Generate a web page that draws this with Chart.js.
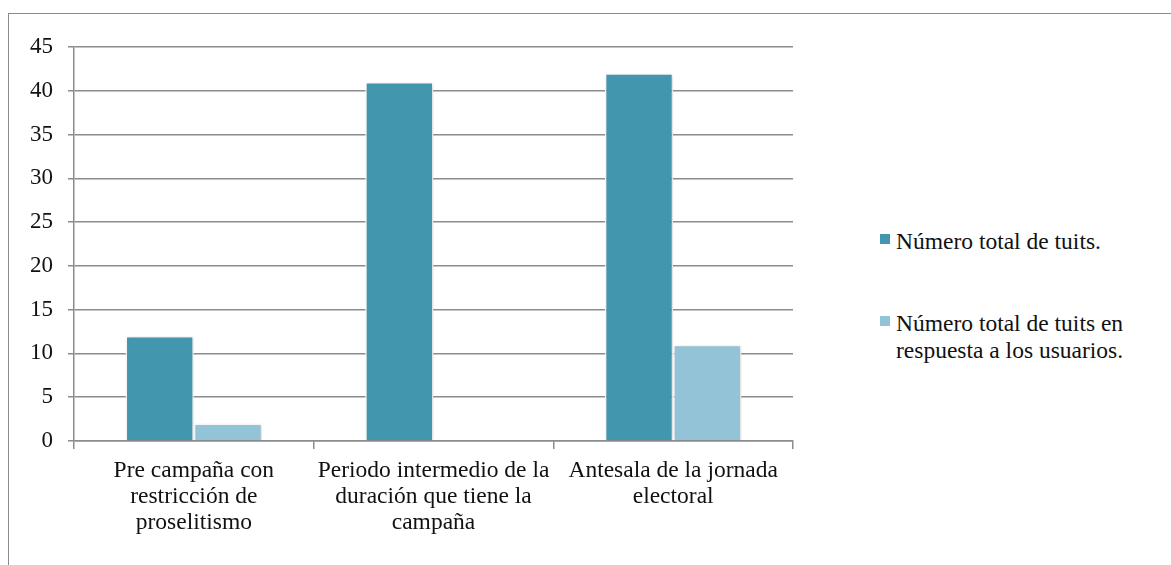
<!DOCTYPE html>
<html>
<head>
<meta charset="utf-8">
<script src="https://cdn.jsdelivr.net/npm/chart.js@4/dist/chart.umd.min.js"></script>
<style>
  html, body { margin: 0; padding: 0; background: #fff; }
  body { width: 1171px; height: 565px; position: relative; overflow: hidden;
         font-family: "Liberation Serif", "Times New Roman", serif; }
  #frame { position: absolute; left: 8px; top: 13px; width: 1200px; height: 600px;
           border: 1px solid #8c8c8c; box-sizing: border-box; }
  #wrap { position: absolute; left: 0; top: 0; width: 820px; height: 565px; }
  #legend { position: absolute; left: 880px; top: 0; width: 290px;
            font-family: "Liberation Serif", "Times New Roman", serif; font-size: 23.5px; color: #111; }
  .item { position: absolute; left: 0; display: flex; align-items: flex-start; }
  .sw { width: 10px; height: 10px; margin-top: 6px; margin-right: 6px; flex: none; }
  .txt { line-height: 27px; white-space: nowrap; }
</style>
</head>
<body>
<div id="frame"></div>
<div id="wrap"><canvas id="c" width="820" height="565"></canvas></div>
<div id="legend"></div>
<script>
// Categories (campaign stages) and the two tweet counts per stage
const categories = [
  ["Pre campaña con", "restricción de", "proselitismo"],
  ["Periodo intermedio de la", "duración que tiene la", "campaña"],
  ["Antesala de la jornada", "electoral"]
];
const totalTuits = [12, 41, 42];
const respuestasUsuarios = [2, 0, 11];
const seriesNames = [
  ["Número total de tuits."],
  ["Número total de tuits en", "respuesta a los usuarios."]
];
const yTicks = [0, 5, 10, 15, 20, 25, 30, 35, 40, 45];

const colors = ["#4297ae", "#93c3d6"];
const serif = "'Liberation Serif', 'Times New Roman', serif";
const xFont = { family: serif, size: 23.5, lineHeight: 1.106 };
const yFont = { family: serif, size: 23 };

// Soft drop shadow under the bars
const barShadow = {
  id: "barShadow",
  beforeDatasetsDraw(chart) {
    const ctx = chart.ctx;
    ctx.save();
    ctx.shadowColor = "rgba(0,0,0,0.18)";
    ctx.shadowBlur = 4;
    ctx.shadowOffsetX = 1;
    ctx.shadowOffsetY = 1;
  },
  afterDatasetsDraw(chart) { chart.ctx.restore(); }
};

new Chart(document.getElementById("c"), {
  type: "bar",
  data: {
    labels: categories,
    datasets: [
      { label: seriesNames[0].join(" "), data: totalTuits, backgroundColor: colors[0],
        borderColor: "#ffffff", borderWidth: 1.5 },
      { label: seriesNames[1].join(" "), data: respuestasUsuarios, backgroundColor: colors[1],
        borderColor: "#ffffff", borderWidth: 1.5 }
    ]
  },
  options: {
    responsive: false,
    animation: false,
    layout: { padding: { top: 47, right: 27, left: 0, bottom: 0 } },
    plugins: { legend: { display: false }, tooltip: { enabled: false } },
    datasets: { bar: { categoryPercentage: 0.57, barPercentage: 1.0 } },
    scales: {
      x: {
        offset: true,
        grid: { offset: true, drawOnChartArea: false, drawTicks: true, tickLength: 8,
                color: "#8c8c8c", lineWidth: 1.5 },
        border: { color: "#8c8c8c", width: 1.5 },
        ticks: { font: xFont, color: "#111", padding: 9, maxRotation: 0, autoSkip: false },
        afterFit(scale) { scale.height = 124; }
      },
      y: {
        min: 0, max: 45,
        afterBuildTicks(scale) { scale.ticks = yTicks.map(v => ({ value: v })); },
        grid: { color: "#8c8c8c", lineWidth: 1.5, tickLength: 6 },
        border: { color: "#8c8c8c", width: 1.5 },
        ticks: { font: yFont, color: "#111", padding: 15 },
        afterFit(scale) { scale.width = 74; }
      }
    }
  },
  plugins: [barShadow]
});

// Legend on the right, built from the same series names and colours
const legend = document.getElementById("legend");
const tops = [228, 310];
seriesNames.forEach((lines, i) => {
  const item = document.createElement("div");
  item.className = "item";
  item.style.top = tops[i] + "px";
  const sw = document.createElement("div");
  sw.className = "sw";
  sw.style.background = colors[i];
  const txt = document.createElement("div");
  txt.className = "txt";
  txt.innerHTML = lines.join("<br>");
  item.appendChild(sw);
  item.appendChild(txt);
  legend.appendChild(item);
});
</script>
</body>
</html>
